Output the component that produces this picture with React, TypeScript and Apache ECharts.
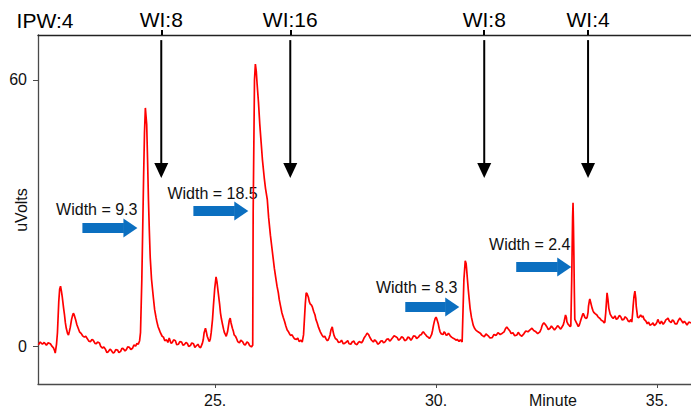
import React, { useEffect, useRef } from "react";
import * as echarts from "echarts";

// Detector trace: [minute, uVolts]
const TRACE: [number, number][] = [
  [21.00, 0.3], [21.04, 0.9], [21.09, 0.4], [21.13, 0.8], [21.18, 0.2], [21.22, 0.7], [21.27, 0.5], [21.31, -0.1],
  [21.34, -0.4], [21.37, -1.2], [21.38, -1.6], [21.41, 0.5], [21.43, 3], [21.46, 10], [21.48, 12.8], [21.50, 13.5],
  [21.52, 12.4], [21.54, 11], [21.57, 8.5], [21.59, 7], [21.61, 5.2], [21.63, 4], [21.66, 2.8], [21.68, 2.5],
  [21.70, 3.3], [21.72, 4.2], [21.75, 6], [21.77, 6.8], [21.79, 7.4], [21.81, 7.0], [21.84, 6], [21.87, 4.8],
  [21.90, 4], [21.93, 3.2], [21.97, 2.8], [22.00, 2.3], [22.04, 2.0], [22.07, 2.2], [22.11, 1.6], [22.14, 1.1],
  [22.18, 1.0], [22.21, 1.5], [22.24, 1.3], [22.28, 0.6], [22.31, 0.5], [22.34, 0.9], [22.38, 0.7], [22.41, -0.1],
  [22.45, -0.5], [22.48, -0.2], [22.52, -0.8], [22.55, -1.5], [22.58, -1.3], [22.62, -0.7], [22.65, -1.0], [22.69, -1.6],
  [22.72, -1.4], [22.75, -0.8], [22.79, -0.9], [22.82, -1.5], [22.86, -1.2], [22.89, -0.5], [22.92, -0.6], [22.96, -1.1],
  [22.99, -0.8], [23.02, -0.2], [23.06, -0.3], [23.09, -0.8], [23.13, -0.5], [23.16, 0.2], [23.20, 0.0], [23.23, 0.6],
  [23.26, 0.4], [23.29, 1.2], [23.31, 3], [23.34, 15], [23.38, 38], [23.40, 48], [23.42, 53.7], [23.45, 50],
  [23.47, 42], [23.49, 33], [23.51, 26], [23.53, 20], [23.56, 15], [23.60, 11], [23.63, 8.2], [23.66, 6.5],
  [23.68, 5.5], [23.71, 4.3], [23.73, 3.8], [23.76, 3], [23.80, 2.2], [23.83, 2], [23.86, 1.2], [23.90, 1.4],
  [23.93, 0.8], [23.96, 1.8], [24.00, 0.6], [24.03, 0.8], [24.06, 1.4], [24.10, 1.2], [24.13, 0.3], [24.17, 0.4],
  [24.20, 1.0], [24.24, 0.9], [24.27, 0.2], [24.30, 0.3], [24.34, 0.8], [24.37, 0.6], [24.40, -0.1], [24.44, 0.1],
  [24.47, 0.7], [24.51, 0.5], [24.54, -0.3], [24.57, 0.0], [24.61, 0.4], [24.64, -0.2], [24.67, -0.4], [24.71, 0.6],
  [24.73, 1.4], [24.75, 3], [24.78, 4.0], [24.80, 3.2], [24.82, 2.2], [24.85, 1.4], [24.87, 1.0], [24.89, 1.6],
  [24.91, 3], [24.94, 6], [24.96, 9], [24.99, 13], [25.02, 15.6], [25.04, 14.5], [25.07, 12], [25.10, 9.5],
  [25.12, 7.5], [25.14, 6.2], [25.16, 5.2], [25.19, 3.8], [25.21, 3.0], [25.23, 2.6], [25.25, 2.2], [25.28, 3.2],
  [25.30, 4.5], [25.32, 5.8], [25.34, 6.3], [25.36, 5.2], [25.39, 4], [25.41, 3.4], [25.43, 2.5], [25.46, 2.2],
  [25.48, 1.8], [25.51, 1.0], [25.55, 0.7], [25.58, 1.3], [25.62, 1.0], [25.65, 0.4], [25.68, 0.2], [25.72, 0.9],
  [25.75, 0.7], [25.78, 0.1], [25.82, -0.2], [25.85, 0.2], [25.86, 30], [25.89, 60], [25.91, 63.6], [25.93, 62],
  [25.95, 59], [25.98, 55], [26.01, 50], [26.04, 46], [26.07, 42], [26.11, 38], [26.14, 35.5], [26.18, 33],
  [26.21, 29], [26.25, 25], [26.28, 22.5], [26.31, 20], [26.34, 17.5], [26.37, 15.5], [26.40, 13.5], [26.43, 12],
  [26.45, 10.5], [26.48, 9], [26.51, 7.5], [26.54, 6.5], [26.57, 5.6], [26.60, 4.5], [26.63, 3.6], [26.66, 3.2],
  [26.69, 2.6], [26.71, 2.4], [26.74, 2.5], [26.77, 2.0], [26.80, 1.6], [26.84, 1.5], [26.87, 1.8], [26.90, 1.0],
  [26.94, 1.3], [26.97, 0.9], [27.00, 2.5], [27.02, 6], [27.04, 9.5], [27.06, 12], [27.08, 11.8], [27.11, 11],
  [27.13, 10], [27.15, 9.5], [27.18, 9.2], [27.20, 8.8], [27.23, 7.8], [27.26, 7], [27.28, 6.0], [27.31, 5.2],
  [27.34, 4.2], [27.38, 3.2], [27.41, 2.6], [27.45, 2.0], [27.48, 2.2], [27.51, 1.6], [27.54, 1.2], [27.56, 1.4],
  [27.58, 1.9], [27.60, 2.5], [27.62, 3.6], [27.65, 4.3], [27.67, 3.2], [27.69, 2.4], [27.72, 1.7], [27.76, 1.4],
  [27.79, 0.8], [27.83, 0.9], [27.86, 1.3], [27.90, 0.5], [27.93, 0.6], [27.97, 0.9], [28.00, 1.2], [28.03, 0.5],
  [28.07, 0.4], [28.10, 0.9], [28.14, 1.1], [28.17, 0.5], [28.21, 0.3], [28.24, 0.8], [28.27, 1.0], [28.31, 0.7],
  [28.34, 1.1], [28.37, 1.8], [28.41, 2.4], [28.44, 2.9], [28.47, 2.6], [28.51, 1.8], [28.54, 1.3], [28.58, 0.9],
  [28.61, 1.4], [28.65, 1.0], [28.68, 0.4], [28.71, 0.6], [28.75, 1.1], [28.78, 1.2], [28.81, 0.7], [28.85, 1.0],
  [28.88, 1.5], [28.92, 1.6], [28.95, 1.1], [28.98, 1.4], [29.02, 1.9], [29.05, 2.3], [29.09, 2.1], [29.12, 1.9],
  [29.15, 1.3], [29.19, 1.6], [29.22, 2.1], [29.26, 1.8], [29.29, 1.2], [29.33, 1.4], [29.36, 2.0], [29.39, 1.9],
  [29.43, 1.3], [29.46, 1.7], [29.49, 2.3], [29.53, 2.2], [29.56, 1.7], [29.60, 2.0], [29.63, 2.4], [29.67, 2.6],
  [29.69, 3.0], [29.71, 3.2], [29.74, 2.8], [29.76, 2.6], [29.79, 2.2], [29.82, 2.0], [29.85, 1.7], [29.87, 2.0],
  [29.90, 2.6], [29.92, 3.5], [29.94, 4.6], [29.96, 5.5], [29.98, 6.2], [30.00, 6.5], [30.02, 6.0], [30.05, 5],
  [30.07, 4.0], [30.09, 3.2], [30.12, 2.7], [30.16, 2.6], [30.18, 3.2], [30.20, 3.0], [30.23, 2.4], [30.25, 2.5],
  [30.28, 2.9], [30.32, 2.3], [30.35, 2.0], [30.38, 1.8], [30.42, 1.6], [30.45, 1.3], [30.48, 1.5], [30.52, 1.0],
  [30.55, 1.4], [30.59, 0.9], [30.61, 8], [30.63, 15], [30.66, 19.2], [30.68, 18.6], [30.69, 17.5], [30.71, 15],
  [30.73, 12.6], [30.75, 10.5], [30.77, 8.5], [30.80, 6.5], [30.84, 4.7], [30.87, 4.0], [30.90, 3.6], [30.95, 3.2],
  [31.00, 2.9], [31.04, 2.4], [31.09, 2.1], [31.13, 2.7], [31.18, 2.3], [31.22, 1.8], [31.27, 1.9], [31.31, 2.6],
  [31.36, 2.4], [31.40, 3.0], [31.45, 2.6], [31.50, 2.9], [31.54, 3.2], [31.57, 3.9], [31.60, 4.3], [31.63, 3.9],
  [31.67, 3.4], [31.70, 2.8], [31.74, 3.0], [31.78, 2.3], [31.83, 2.5], [31.86, 3.1], [31.90, 2.5], [31.94, 2.2],
  [31.99, 2.8], [32.03, 3.4], [32.08, 3.2], [32.12, 3.6], [32.17, 4.0], [32.21, 3.5], [32.26, 3.2], [32.30, 2.8],
  [32.35, 3.2], [32.38, 3.9], [32.40, 4.6], [32.42, 5.0], [32.44, 5.2], [32.47, 4.9], [32.51, 4.3], [32.54, 3.7],
  [32.58, 4.0], [32.61, 4.5], [32.65, 4.0], [32.68, 3.6], [32.72, 4.1], [32.75, 4.6], [32.78, 4.3], [32.82, 3.8],
  [32.85, 4.3], [32.88, 4.8], [32.90, 5.6], [32.93, 7.0], [32.95, 6.4], [32.96, 5.5], [32.99, 4.9], [33.01, 4.7],
  [33.03, 4.4], [33.05, 4.5], [33.07, 15], [33.09, 29], [33.10, 32.3], [33.11, 27], [33.12, 20], [33.13, 12],
  [33.14, 6], [33.17, 5.4], [33.19, 5.0], [33.22, 4.4], [33.24, 4.7], [33.26, 5.3], [33.28, 6.0], [33.31, 6.9],
  [33.33, 7.4], [33.35, 6.9], [33.37, 6.4], [33.40, 6.2], [33.42, 6.5], [33.44, 7.6], [33.45, 9], [33.47, 10.2],
  [33.48, 10.6], [33.50, 9.8], [33.53, 8.6], [33.55, 8.0], [33.57, 7.6], [33.60, 7.3], [33.64, 7.0], [33.67, 6.5],
  [33.71, 6.2], [33.74, 5.8], [33.78, 5.6], [33.80, 5.2], [33.82, 5.4], [33.84, 7.5], [33.85, 9], [33.87, 12],
  [33.89, 10.5], [33.91, 8.5], [33.94, 7.2], [33.98, 6.5], [34.01, 6.2], [34.05, 6.8], [34.08, 6.0], [34.11, 6.2],
  [34.15, 6.9], [34.18, 6.6], [34.21, 5.9], [34.25, 6.0], [34.28, 6.6], [34.32, 6.2], [34.35, 5.6], [34.38, 5.5],
  [34.41, 6.0], [34.43, 5.4], [34.45, 7.5], [34.46, 9], [34.48, 11.2], [34.50, 12.4], [34.52, 10.8], [34.53, 9],
  [34.55, 7.4], [34.56, 6.5], [34.59, 6.4], [34.63, 7.0], [34.66, 6.5], [34.68, 6.8], [34.71, 6.0], [34.75, 5.6],
  [34.78, 5.0], [34.81, 5.4], [34.84, 4.7], [34.88, 4.9], [34.91, 5.2], [34.94, 4.6], [34.98, 5.0], [35.00, 5.4],
  [35.02, 6.0], [35.04, 5.5], [35.07, 5.0], [35.10, 5.6], [35.14, 4.9], [35.17, 5.3], [35.20, 5.9], [35.23, 6.1],
  [35.25, 6.3], [35.28, 5.6], [35.32, 5.3], [35.35, 5.9], [35.38, 5.6], [35.41, 5.0], [35.45, 5.0], [35.48, 5.7],
  [35.52, 6.3], [35.55, 5.8], [35.59, 5.2], [35.62, 5.6], [35.65, 5.2], [35.68, 4.7], [35.72, 5.4], [35.77, 5.2],
];

// Axis ranges and ticks
const X_RANGE = [20.99, 35.77];
const Y_RANGE = [-8.57, 70.15];
const X_TICKS = [25, 30, 35];
const Y_TICKS = [0, 60];

// Injection markers along the top axis (minute, label)
const INJECT_AT = [23.78, 26.7, 31.09, 33.44];
const INJECT_LABELS = ["WI:8", "WI:16", "WI:8", "WI:4"];
const INJECT_ARROW_TOP = 69.0; // uVolts where each arrow starts
const INJECT_ARROW_TIP = 37.9; // uVolts at the arrow point

// Peak-width call-outs: label, label anchor, arrow tail, arrow tip minute
const WIDTH_LABELS = ["Width = 9.3", "Width = 18.5", "Width = 8.3", "Width = 2.4"];
const WIDTH_LABEL_AT: [number, number][] = [
  [22.32, 30.9], [24.94, 34.5], [29.56, 13.2], [32.12, 22.8],
];
const WIDTH_ARROW_TAIL: [number, number][] = [
  [21.995, 26.6], [24.507, 30.45], [29.303, 8.8], [31.814, 17.8],
];
const WIDTH_ARROW_TIP = [23.24, 25.75, 30.525, 33.06];

const FONT = '"Liberation Sans", Arial, Helvetica, sans-serif';
const AXIS_GREY = "#4a4a4a";
const ARROW_BLUE = "#0b6fc0";

export default function App() {
  const ref = useRef<HTMLDivElement>(null);

  useEffect(() => {
    if (!ref.current) return;
    const chart = echarts.init(ref.current, undefined, { renderer: "svg" });

    chart.setOption({
      animation: false,
      backgroundColor: "#ffffff",
      grid: { left: 38, right: 0, top: 35, bottom: 24, containLabel: false },
      xAxis: [
        {
          type: "value",
          min: X_RANGE[0],
          max: X_RANGE[1],
          splitLine: { show: false },
          axisLine: { show: true, onZero: false, lineStyle: { color: AXIS_GREY, width: 1.3 } },
          axisTick: { show: true, customValues: X_TICKS, length: 4, lineStyle: { color: AXIS_GREY, width: 1 } },
          axisLabel: {
            customValues: X_TICKS,
            formatter: (v: number) => `${v}.`,
            fontFamily: FONT,
            fontSize: 16,
            color: "#111",
            margin: 8,
          },
        },
        {
          type: "value",
          position: "top",
          min: X_RANGE[0],
          max: X_RANGE[1],
          splitLine: { show: false },
          axisLine: { show: true, onZero: false, lineStyle: { color: "#222", width: 1.3 } },
          axisTick: { show: true, customValues: INJECT_AT, length: 5, lineStyle: { color: "#000", width: 2 } },
          axisLabel: {
            customValues: INJECT_AT,
            formatter: (v: number) => {
              const i = INJECT_AT.findIndex((m) => Math.abs(m - v) < 1e-6);
              return i >= 0 ? INJECT_LABELS[i] : "";
            },
            fontFamily: FONT,
            fontSize: 21,
            color: "#000",
            margin: 5,
          },
        },
      ],
      yAxis: {
        type: "value",
        min: Y_RANGE[0],
        max: Y_RANGE[1],
        splitLine: { show: false },
        axisLine: { show: true, onZero: false, lineStyle: { color: AXIS_GREY, width: 1.3 } },
        axisTick: { show: true, customValues: Y_TICKS, length: 5, lineStyle: { color: AXIS_GREY, width: 1 } },
        axisLabel: {
          customValues: Y_TICKS,
          fontFamily: FONT,
          fontSize: 16,
          color: "#111",
          margin: 11,
        },
      },
      series: [
        {
          type: "line",
          xAxisIndex: 0,
          yAxisIndex: 0,
          data: TRACE,
          showSymbol: false,
          clip: true,
          lineStyle: { color: "#ff0000", width: 1.7 },
          itemStyle: { color: "#ff0000" },
        },
      ],
    });

    const px = (m: number, v: number) =>
      chart.convertToPixel({ seriesIndex: 0 }, [m, v]) as number[];

    const graphics: any[] = [];

    // Injection arrows
    INJECT_AT.forEach((m) => {
      const [x, y1] = px(m, INJECT_ARROW_TOP);
      const [, yTip] = px(m, INJECT_ARROW_TIP);
      graphics.push({
        type: "line",
        shape: { x1: x, y1, x2: x, y2: yTip - 12 },
        style: { stroke: "#000", lineWidth: 2 },
      });
      graphics.push({
        type: "polygon",
        shape: { points: [[x - 7, yTip - 15], [x + 7, yTip - 15], [x, yTip]] },
        style: { fill: "#000" },
      });
    });

    // Peak-width arrows and labels
    WIDTH_LABELS.forEach((label, i) => {
      const [tx, ty] = px(WIDTH_ARROW_TAIL[i][0], WIDTH_ARROW_TAIL[i][1]);
      const [hx] = px(WIDTH_ARROW_TIP[i], WIDTH_ARROW_TAIL[i][1]);
      const headLen = 14;
      graphics.push({
        type: "rect",
        shape: { x: tx, y: ty - 5, width: hx - headLen - tx + 0.5, height: 10 },
        style: { fill: ARROW_BLUE },
      });
      graphics.push({
        type: "polygon",
        shape: { points: [[hx - headLen, ty - 9.5], [hx - headLen, ty + 9.5], [hx, ty]] },
        style: { fill: ARROW_BLUE },
      });
      const [lx, ly] = px(WIDTH_LABEL_AT[i][0], WIDTH_LABEL_AT[i][1]);
      graphics.push({
        type: "text",
        x: lx,
        y: ly,
        style: {
          text: label,
          align: "center",
          verticalAlign: "middle",
          fontFamily: FONT,
          fontSize: 16,
          fill: "#111",
        },
      });
    });

    // Free-standing captions
    graphics.push({
      type: "text",
      x: 45,
      y: 20,
      style: { text: "IPW:4", align: "center", verticalAlign: "middle", fontFamily: FONT, fontSize: 21, fill: "#000" },
    });
    graphics.push({
      type: "text",
      x: 553,
      y: 400,
      style: { text: "Minute", align: "center", verticalAlign: "middle", fontFamily: FONT, fontSize: 16, fill: "#111" },
    });
    graphics.push({
      type: "text",
      x: 21,
      y: 210,
      rotation: Math.PI / 2,
      style: { text: "uVolts", align: "center", verticalAlign: "middle", fontFamily: FONT, fontSize: 16, fill: "#111" },
    });

    chart.setOption({ graphic: graphics });

    return () => chart.dispose();
  }, []);

  return (
    <div
      ref={ref}
      style={{ position: "fixed", left: 0, top: 0, width: 691, height: 408, background: "#fff" }}
    />
  );
}
